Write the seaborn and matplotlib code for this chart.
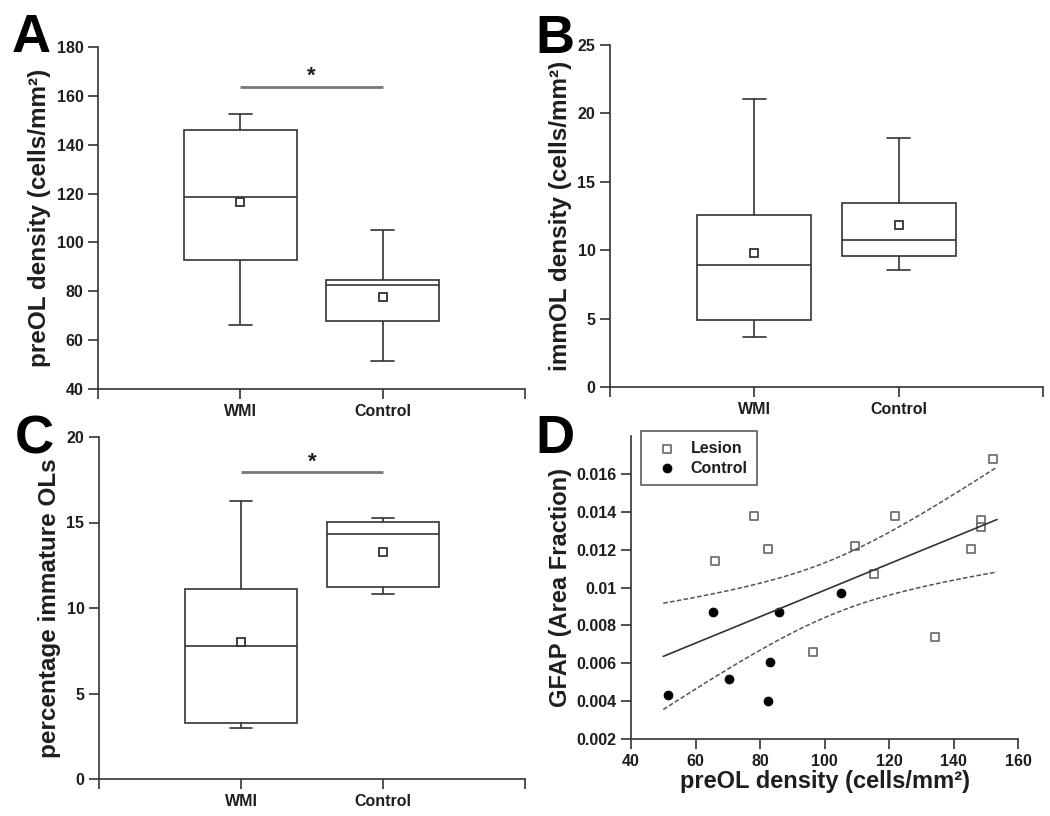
import numpy as np
import pandas as pd
import matplotlib
matplotlib.use("Agg")
import matplotlib.pyplot as plt
import seaborn as sns
from matplotlib.ticker import FormatStrFormatter

# per-case values (preOL density vs GFAP area fraction)
lesion_preol = [66.0, 78.0, 82.4, 96.3, 109.4, 115.3, 121.8, 134.2, 145.4, 148.6, 148.6, 152.4]
lesion_gfap = [0.01138, 0.0138, 0.01201, 0.00662, 0.01217, 0.01071, 0.0138, 0.0074,
               0.01201, 0.01358, 0.01321, 0.01679]
control_preol = [51.5, 65.4, 70.3, 82.4, 83.2, 86.0, 105.0]
control_gfap = [0.00431, 0.00872, 0.00519, 0.00399, 0.00607, 0.00872, 0.0097]

groups = ["WMI", "Control"]

immol_wmi = [3.63, 4.9, 8.92, 12.57, 21.03, 9.77]
immol_control = [8.55, 9.6, 10.72, 13.43, 18.18, 11.87]
pct_wmi = [3.0, 3.26, 7.79, 11.12, 16.27, 8.0]
pct_control = [10.83, 11.24, 14.31, 15.01, 15.27, 13.25]

LINE = "#333333"
TEXT = "#1e1e1e"

sns.set_theme(style="ticks")
plt.rcParams["font.family"] = ["Liberation Sans", "DejaVu Sans"]
plt.rcParams["font.weight"] = "bold"
plt.rcParams["axes.labelweight"] = "bold"
plt.rcParams["axes.edgecolor"] = LINE
plt.rcParams["axes.linewidth"] = 1.2
plt.rcParams["text.color"] = TEXT
plt.rcParams["axes.labelcolor"] = TEXT

box_kw = dict(
    boxprops=dict(edgecolor=LINE, facecolor="white", linewidth=1.2),
    medianprops=dict(color=LINE, linewidth=1.2),
    whiskerprops=dict(color=LINE, linewidth=1.2),
    capprops=dict(color=LINE, linewidth=1.2),
    meanprops=dict(marker="s", markerfacecolor="white", markeredgecolor=LINE,
                   markersize=5.5, markeredgewidth=1.3),
)


def stats_dict(vals, label):
    lo, q1, med, q3, hi, mean = vals
    return dict(label=label, whislo=lo, q1=q1, med=med, q3=q3, whishi=hi, mean=mean, fliers=[])


def style_axis(ax):
    sns.despine(ax=ax)
    ax.tick_params(direction="out", length=7, width=1.2, color=LINE,
                   labelsize=11.5, labelcolor=TEXT)


def style_cat(ax, ylabel, ylim, yticks):
    ax.set_xlim(-1, 2)
    ax.set_xticks([-1, 0, 1, 2])
    ax.set_xticklabels(["", "WMI", "Control", ""])
    ax.set_xlabel("")
    ax.set_ylim(*ylim)
    ax.set_yticks(yticks)
    ax.set_ylabel(ylabel, fontsize=17.5, labelpad=4)
    style_axis(ax)


def sig_bar(ax, y, ystar):
    ax.plot([0, 1], [y, y], color="#777777", lw=2, solid_capstyle="butt")
    ax.text(0.5, ystar, "*", ha="center", va="center", fontsize=16, color=TEXT)


fig = plt.figure(figsize=(10.5, 8.16), dpi=100)
W, H = 1050, 816


def add_ax(left, top, right, bottom):
    return fig.add_axes([left / W, 1 - bottom / H, (right - left) / W, (bottom - top) / H])


axA = add_ax(98, 47, 525, 389)
axB = add_ax(610, 45, 1043, 387)
axC = add_ax(99, 437, 525, 779)
axD = add_ax(631, 436, 1018, 739)

# A: boxes straight from the raw preOL values
dfA = pd.DataFrame({
    "group": ["WMI"] * len(lesion_preol) + ["Control"] * len(control_preol),
    "preol": lesion_preol + control_preol,
})
sns.boxplot(data=dfA, x="group", y="preol", order=groups, ax=axA, whis=(0, 100),
            width=0.79, color="white", linecolor=LINE, linewidth=1.2,
            showmeans=True, meanprops=box_kw["meanprops"], capwidths=0.16)
style_cat(axA, "preOL density (cells/mm²)", (40, 180), range(40, 181, 20))
sig_bar(axA, 163.8, 168.0)

# B and C: only summary statistics available
axB.bxp([stats_dict(immol_wmi, groups[0]), stats_dict(immol_control, groups[1])],
        positions=[0, 1], widths=0.79, capwidths=0.16, showmeans=True,
        patch_artist=True, manage_ticks=False, **box_kw)
style_cat(axB, "immOL density (cells/mm²)", (0, 25), range(0, 26, 5))

axC.bxp([stats_dict(pct_wmi, groups[0]), stats_dict(pct_control, groups[1])],
        positions=[0, 1], widths=0.79, capwidths=0.16, showmeans=True,
        patch_artist=True, manage_ticks=False, **box_kw)
style_cat(axC, "percentage immature OLs", (0, 20), range(0, 21, 5))
sig_bar(axC, 17.95, 18.5)

# D: scatter + linear fit with 95% confidence band
sns.scatterplot(x=lesion_preol, y=lesion_gfap, ax=axD, marker="s", s=32,
                facecolor="white", edgecolor="#666666", linewidth=1.2, label="Lesion")
sns.scatterplot(x=control_preol, y=control_gfap, ax=axD, marker="o", s=42,
                color="black", edgecolor="black", label="Control")

x_all = np.array(lesion_preol + control_preol)
y_all = np.array(lesion_gfap + control_gfap)
n = len(x_all)
slope, intercept = np.polyfit(x_all, y_all, 1)
resid = y_all - (slope * x_all + intercept)
s_err = np.sqrt(np.sum(resid ** 2) / (n - 2))
sxx = np.sum((x_all - x_all.mean()) ** 2)
t_crit = 2.110  # t(0.975, df=17)
xs = np.linspace(50, 153.5, 120)
ys = slope * xs + intercept
half = t_crit * s_err * np.sqrt(1 / n + (xs - x_all.mean()) ** 2 / sxx)
axD.plot(xs, ys, color=LINE, lw=1.2)
axD.plot(xs, ys + half, color="#555555", lw=1.1, ls=(0, (3, 1.5)))
axD.plot(xs, ys - half, color="#555555", lw=1.1, ls=(0, (3, 1.5)))

axD.set_xlim(40, 160)
axD.set_ylim(0.002, 0.018)
axD.set_xticks(range(40, 161, 20))
axD.set_yticks(np.arange(0.002, 0.0165, 0.002))
axD.yaxis.set_major_formatter(FormatStrFormatter("%g"))
axD.set_xlabel("preOL density (cells/mm²)", fontsize=17, labelpad=1)
axD.set_ylabel("GFAP (Area Fraction)", fontsize=17, labelpad=3)
style_axis(axD)
leg = axD.legend(loc="upper left", bbox_to_anchor=(0.026, 1.016), borderaxespad=0,
                 frameon=True, fancybox=False, edgecolor=LINE, fontsize=11.5,
                 handletextpad=0.5, borderpad=0.6, labelspacing=0.3, handlelength=2.0)
leg.get_frame().set_linewidth(1.2)

# panel letters
for letter, x, ybase in [("A", 12, 52), ("B", 535, 53), ("C", 15, 453), ("D", 535, 453)]:
    fig.text(x / W, 1 - ybase / H, letter, fontsize=39, fontweight="bold",
             color="black", ha="left", va="baseline")

fig.savefig("out.png", dpi=100)
